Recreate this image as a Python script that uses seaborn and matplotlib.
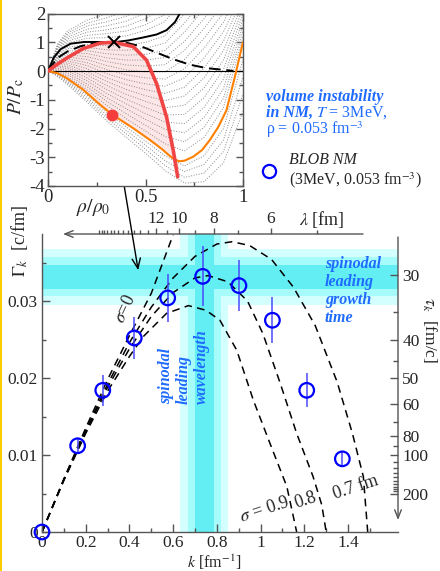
import numpy as np
import pandas as pd
import matplotlib
matplotlib.use("Agg")
import matplotlib.pyplot as plt
import seaborn as sns
from matplotlib.lines import Line2D
from matplotlib.patches import Rectangle

# ---------------- inset data: P/Pc vs rho/rho0 ----------------
rho_grid = [0, 0.05, 0.1, 0.2, 0.3, 0.4, 0.5, 0.6, 0.7, 0.8, 0.9, 1.0]
isotherm_P = [
    [0, -0.20, -0.47, -1.08, -1.73, -2.30, -2.86, -3.46, -3.90, -3.85, -3.20, -1.40],
    [0, -0.17, -0.42, -1.00, -1.63, -2.18, -2.72, -3.29, -3.70, -3.55, -2.80, -0.80],
    [0, -0.14, -0.37, -0.92, -1.53, -2.06, -2.58, -3.12, -3.50, -3.25, -2.40, -0.20],
    [0, -0.11, -0.32, -0.84, -1.43, -1.94, -2.44, -2.95, -3.30, -2.95, -2.00, 0.40],
    [0, -0.04, -0.20, -0.66, -1.19, -1.65, -2.09, -2.53, -2.78, -2.31, -1.27, 1.2],
    [0, 0.01, -0.13, -0.55, -1.05, -1.48, -1.89, -2.28, -2.46, -1.96, -0.94, 1.4],
    [0, 0.05, -0.06, -0.45, -0.92, -1.31, -1.68, -2.03, -2.15, -1.62, -0.61, 1.6],
    [0, 0.09, 0.01, -0.34, -0.78, -1.14, -1.48, -1.78, -1.83, -1.27, -0.28, 1.8],
    [0, 0.14, 0.08, -0.24, -0.64, -0.98, -1.27, -1.53, -1.51, -0.93, 0.05, 2.0],
    [0, 0.18, 0.14, -0.13, -0.50, -0.81, -1.06, -1.28, -1.19, -0.59, 0.38, 2.2],
    [0, 0.22, 0.21, -0.03, -0.36, -0.64, -0.86, -1.03, -0.87, -0.24, 0.71, 2.4],
    [0, 0.26, 0.28, 0.08, -0.23, -0.47, -0.65, -0.78, -0.56, 0.10, 1.04, 2.6],
    [0, 0.31, 0.35, 0.19, -0.09, -0.30, -0.45, -0.53, -0.24, 0.45, 1.37, 2.8],
    [0, 0.35, 0.42, 0.29, 0.05, -0.13, -0.24, -0.28, 0.08, 0.79, 1.70, 3.0],
    [0, 0.39, 0.49, 0.40, 0.19, 0.04, -0.03, -0.03, 0.40, 1.13, 2.03, 3.2],
    [0, 0.44, 0.56, 0.50, 0.33, 0.21, 0.17, 0.22, 0.72, 1.48, 2.36, 3.4],
    [0, 0.48, 0.63, 0.61, 0.46, 0.38, 0.38, 0.47, 1.03, 1.82, 2.69, 3.6],
    [0, 0.52, 0.70, 0.71, 0.60, 0.55, 0.58, 0.72, 1.35, 2.17, 3.02, 3.8],
    [0, 0.57, 0.77, 0.82, 0.74, 0.72, 0.79, 0.97, 1.67, 2.51, 3.35, 4.0],
    [0, 0.61, 0.83, 0.92, 0.88, 0.88, 1.00, 1.22, 1.99, 2.85, 3.68, 4.2],
    [0, 0.69, 0.97, 1.14, 1.16, 1.22, 1.41, 1.72, 2.62, 3.5, 4.4, 5.2],
    [0, 0.74, 1.04, 1.24, 1.30, 1.39, 1.61, 1.97, 2.94, 3.8, 4.7, 5.4],
    [0, 0.78, 1.11, 1.35, 1.43, 1.56, 1.82, 2.22, 3.25, 4.1, 5.0, 5.6],
    [0, 0.82, 1.18, 1.45, 1.57, 1.73, 2.02, 2.47, 3.57, 4.4, 5.3, 5.8],
    [0, 0.87, 1.25, 1.56, 1.71, 1.90, 2.23, 2.72, 3.89, 4.7, 5.6, 6.0],
    [0, 0.91, 1.32, 1.66, 1.85, 2.07, 2.43, 2.97, 4.2, 5.0, 5.9, 6.2],
    [0, 0.95, 1.39, 1.77, 1.99, 2.24, 2.64, 3.2, 4.5, 5.3, 6.2, 6.4],
]

orange_rho = [0, 0.05, 0.094, 0.18, 0.267, 0.33, 0.437, 0.523, 0.585, 0.62, 0.645, 0.673,
              0.70, 0.745, 0.79, 0.83, 0.873, 0.915, 0.958, 1.0]
orange_P = [0, -0.08, -0.24, -0.65, -1.17, -1.52, -1.99, -2.40, -2.72, -2.93, -3.06, -3.14,
            -3.12, -2.98, -2.75, -2.40, -1.95, -1.37, -0.21, 1.0]

crit_rho = [0, 0.03, 0.065, 0.116, 0.185, 0.26, 0.338, 0.41, 0.484, 0.557, 0.608, 0.651, 0.68]
crit_P = [0, 0.47, 0.76, 0.95, 1.01, 1.01, 1.0, 1.06, 1.16, 1.27, 1.42, 1.7, 2.05]

coex_rho = [0, 0.048, 0.1, 0.167, 0.235, 0.338, 0.41, 0.484, 0.557, 0.642, 0.728, 0.813, 0.915, 0.95]
coex_P = [0, 0.45, 0.68, 0.86, 0.96, 1.0, 0.97, 0.84, 0.64, 0.41, 0.22, 0.10, 0.03, 0.0]

spin_rho = [0, 0.04, 0.094, 0.18, 0.267, 0.338, 0.437, 0.505, 0.557, 0.608, 0.642, 0.665]
spin_P = [0, 0.20, 0.44, 0.78, 0.97, 1.0, 0.85, 0.38, -0.44, -1.6, -2.75, -3.68]

crit_point = (0.338, 1.0)
state_point = (0.33, -1.52)

# ---------------- main data: growth rate vs k ----------------
k_pts = [0, 0.163, 0.278, 0.422, 0.575, 0.735, 0.901, 1.054, 1.211, 1.374]
gamma_pts = [0, 0.0112, 0.0184, 0.0252, 0.0304, 0.0332, 0.0320, 0.0275, 0.0184, 0.0095]
gamma_err = [0, 0.0010, 0.0020, 0.0027, 0.0031, 0.0039, 0.0033, 0.0030, 0.0022, 0.0010]

s0_k = [0, 0.1, 0.2, 0.3, 0.4, 0.5, 0.6]
s0_g = [0, 0.0069, 0.0135, 0.0198, 0.0255, 0.0310, 0.0386]
s07_k = [0, 0.1, 0.2, 0.3, 0.4, 0.5, 0.6, 0.7, 0.8, 0.87, 0.95, 1.05, 1.15, 1.25, 1.35, 1.42, 1.47, 1.49]
s07_g = [0, 0.0068, 0.0132, 0.0192, 0.0246, 0.0292, 0.0330, 0.0358, 0.0374, 0.0377, 0.0372, 0.0354,
         0.0318, 0.0268, 0.0195, 0.0128, 0.0072, 0.0]
s08_k = [0, 0.1, 0.2, 0.3, 0.4, 0.5, 0.6, 0.7, 0.76, 0.85, 0.94, 1.01, 1.09, 1.165, 1.24, 1.28, 1.30]
s08_g = [0, 0.0068, 0.0130, 0.0188, 0.0238, 0.0280, 0.0311, 0.0330, 0.0333, 0.0325, 0.0300, 0.0258,
         0.0193, 0.0128, 0.0072, 0.0035, 0.0]
s09_k = [0, 0.1, 0.2, 0.3, 0.4, 0.464, 0.57, 0.67, 0.75, 0.814, 0.891, 0.967, 1.043, 1.12, 1.165]
s09_g = [0, 0.0067, 0.0128, 0.0183, 0.0228, 0.0254, 0.0284, 0.0294, 0.0288, 0.0275, 0.0236, 0.0171,
         0.0115, 0.0059, 0.0]

# spinodal bands (light, medium, dark)
band_k = [(0.631, 0.851), (0.666, 0.819), (0.700, 0.787)]
band_g = [(0.02948, 0.03675), (0.03065, 0.0357), (0.03156, 0.03468)]
band_colors = ["#d4ffff", "#a6fbfb", "#62eef2"]

lambda_ticks = list(range(5, 25))
lambda_labels = [12, 10, 8, 6]
tau_major = [30, 40, 50, 60, 80, 100, 200]
tau_minor = [35, 45, 70, 90, 110, 120, 130, 140, 150, 160, 170, 180, 190]
arrow_tip = (0.44, 0.0340)

# ---------------- style ----------------
sns.set_theme(style="ticks")
plt.rcParams["font.family"] = ["Liberation Serif", "DejaVu Serif"]
plt.rcParams["mathtext.fontset"] = "stix"
plt.rcParams["axes.unicode_minus"] = False

W, H = 440, 571
fig = plt.figure(figsize=(W / 100, H / 100), dpi=100)
fig.patch.set_facecolor("white")


def F(x, y):
    return (x / W, 1 - y / H)


BLUE_TXT = "#1f6bff"
SPINE = "#555555"

# ---------------- main axes ----------------
ax = fig.add_axes([42 / W, 1 - 532 / H, 356 / W, 298 / H])
ax.set_facecolor("none")
ax.set_xlim(0, 356 / 218.6)
ax.set_ylim(0, 298 / 7700)

for i, (kk, gg, c) in enumerate(zip(band_k, band_g, band_colors)):
    ax.axvspan(kk[0], kk[1], color=c, lw=0, zorder=0.1 + 0.1 * i)
    ax.axhspan(gg[0], gg[1], color=c, lw=0, zorder=0.1 + 0.1 * i)

for ks, gs in [(s0_k, s0_g), (s07_k, s07_g), (s08_k, s08_g), (s09_k, s09_g)]:
    sns.lineplot(x=ks, y=gs, ax=ax, color="black", lw=1.1, linestyle=(0, (5, 3.5)),
                 sort=False, estimator=None, zorder=2)

ax.errorbar(k_pts, gamma_pts, yerr=gamma_err, fmt="none", ecolor="#4a4aff",
            elinewidth=1.1, capsize=0, zorder=3)
sns.scatterplot(x=k_pts, y=gamma_pts, ax=ax, marker="o", s=110, facecolors="none",
                edgecolor="#0000ff", linewidth=1.6, zorder=4, clip_on=False)

ax.set_xticks([0, 0.2, 0.4, 0.6, 0.8, 1.0, 1.2, 1.4])
ax.set_xticklabels(["0", "0.2", "0.4", "0.6", "0.8", "1", "1.2", "1.4"])
ax.set_xticks([0.1, 0.3, 0.5, 0.7, 0.9, 1.1, 1.3, 1.5], minor=True)
ax.set_yticks([0, 0.01, 0.02, 0.03])
ax.set_yticklabels(["0", "0.01", "0.02", "0.03"])
ax.set_yticks([0.005, 0.015, 0.025, 0.035], minor=True)
ax.tick_params(which="both", direction="in", top=False, right=False, labelsize=12.5,
               color=SPINE, width=1, pad=3)
ax.tick_params(axis="x", which="both", pad=2)
ax.tick_params(which="major", length=6)
ax.tick_params(which="minor", length=3)
ax.set_xlabel("")
ax.set_ylabel("")
for side in ["top", "right"]:
    ax.spines[side].set_visible(False)
for side in ["left", "bottom"]:
    ax.spines[side].set_color(SPINE)
    ax.spines[side].set_linewidth(1)

# right tau axis
ax2 = ax.twinx()
ax2.set_ylim(ax.get_ylim())
ax2.set_yticks([1 / t for t in tau_major])
ax2.set_yticklabels([str(t) for t in tau_major])
ax2.set_yticks([1 / t for t in tau_minor], minor=True)
ax2.tick_params(which="both", direction="in", right=True, left=False, labelsize=12.5,
                color=SPINE, width=1, pad=3)
ax2.tick_params(which="major", length=6)
ax2.tick_params(which="minor", length=3.5)
for s in ax2.spines.values():
    s.set_visible(False)

# top lambda axis
ax3 = ax.twiny()
ax3.set_xlim(ax.get_xlim())
ax3.set_xticks([2 * np.pi / l for l in lambda_labels])
ax3.set_xticklabels([str(l) for l in lambda_labels])
ax3.set_xticks([2 * np.pi / l for l in lambda_ticks if l not in lambda_labels], minor=True)
ax3.tick_params(which="both", direction="out", top=True, bottom=False, labelsize=12.5,
                color=SPINE, width=1, pad=1)
ax3.tick_params(which="major", length=4)
ax3.tick_params(which="minor", length=3)
for s in ax3.spines.values():
    s.set_visible(False)

ax.annotate("", xy=((63 - 42) / 356, 1.0), xytext=((363 - 42) / 356, 1.0),
            xycoords="axes fraction", textcoords="axes fraction",
            arrowprops=dict(arrowstyle="->,head_length=0.5,head_width=0.2", lw=1,
                            color=SPINE, shrinkA=0, shrinkB=0), annotation_clip=False)
ax.annotate("", xy=(1.0, (532 - 520) / 298), xytext=(1.0, (532 - 237) / 298),
            xycoords="axes fraction", textcoords="axes fraction",
            arrowprops=dict(arrowstyle="->,head_length=0.5,head_width=0.2", lw=1,
                            color=SPINE, shrinkA=0, shrinkB=0), annotation_clip=False)

# labels for main
fig.text(*F(20, 241), r"$\Gamma_k$  [c/fm]", rotation=90, ha="center", va="center", fontsize=13)
fig.text(*F(429, 330), r"$\tau_k$  [fm/c]", rotation=270, ha="center", va="center", fontsize=12.5)
fig.text(*F(214, 562), r"$k$ [fm$^{-1}$]", ha="center", va="center", fontsize=11.5)
fig.text(*F(322, 219), r"$\lambda$ [fm]", ha="center", va="center", fontsize=13)
fig.text(*F(125, 309), r"$\sigma$=0", rotation=65, ha="center", va="center", fontsize=13)
fig.text(*F(265, 510), r"$\sigma$ = 0.9", rotation=18, ha="center", va="center", fontsize=13)
fig.text(*F(306, 500), "0.8", rotation=18, ha="center", va="center", fontsize=13)
fig.text(*F(356, 488), "0.7 fm", rotation=18, ha="center", va="center", fontsize=13)

fig.text(*F(325, 256), "spinodal\nleading\ngrowth\ntime", ha="left", va="top", fontsize=11.5,
         color=BLUE_TXT, fontweight="bold", fontstyle="italic", linespacing=1.17)
fig.text(*F(184, 404), "spinodal\nleading\nwavelength", rotation=90, ha="center", va="bottom",
         multialignment="left", fontsize=11.5, color=BLUE_TXT, fontweight="bold",
         fontstyle="italic", linespacing=1.2)

# ---------------- inset ----------------
ax_in = fig.add_axes([48 / W, 1 - 186 / H, 195 / W, 172.5 / H])
ax_in.set_xlim(0, 1)
ax_in.set_ylim(-4, 2)

iso_df = pd.DataFrame(
    [(i, r, p) for i, row in enumerate(isotherm_P) for r, p in zip(rho_grid, row)],
    columns=["curve", "rho", "P"],
)

n_or = sum(1 for r in orange_rho if r <= 0.673)
poly_x = list(spin_rho) + list(orange_rho[:n_or])[::-1]
poly_y = list(spin_P) + list(orange_P[:n_or])[::-1]
ax_in.fill(poly_x, poly_y, color="#fde6e6", lw=0, zorder=1)

sns.lineplot(data=iso_df, x="rho", y="P", units="curve", estimator=None, sort=False,
             ax=ax_in, color="#8a8a8a", lw=0.7, linestyle=":", legend=False, zorder=2)
ax_in.axhline(0, color="black", lw=0.8, zorder=2.5)
sns.lineplot(x=coex_rho, y=coex_P, ax=ax_in, color="black", lw=1.4, linestyle=(0, (6, 3)),
             sort=False, estimator=None, zorder=3)
sns.lineplot(x=crit_rho, y=crit_P, ax=ax_in, color="black", lw=1.4, sort=False,
             estimator=None, zorder=3)
sns.lineplot(x=orange_rho, y=orange_P, ax=ax_in, color="#ff8000", lw=1.5, sort=False,
             estimator=None, zorder=3.2)
sns.lineplot(x=spin_rho, y=spin_P, ax=ax_in, color="#f04545", lw=2.6, sort=False,
             estimator=None, zorder=3.5)
ax_in.plot([crit_point[0]], [crit_point[1]], marker="x", color="black", ms=8, mew=1.4,
           zorder=5, ls="none")
ax_in.plot([state_point[0]], [state_point[1]], marker="o", color="#f43c3c", ms=7.5,
           zorder=5, ls="none")

ax_in.set_xticks([0, 0.5, 1])
ax_in.set_xticklabels(["0", "0.5", "1"])
ax_in.set_xticks([0.25, 0.75], minor=True)
ax_in.set_yticks([-4, -3, -2, -1, 0, 1, 2])
ax_in.set_yticklabels(["-4", "-3", "-2", "-1", "0", "1", "2"])
ax_in.set_yticks([-3.5, -2.5, -1.5, -0.5, 0.5, 1.5], minor=True)
ax_in.tick_params(which="both", direction="in", top=True, right=True, labelsize=13.5,
                  color=SPINE, width=1, pad=2)
ax_in.tick_params(which="major", length=5)
ax_in.tick_params(which="minor", length=3)
ax_in.set_xlabel("")
ax_in.set_ylabel("")
for s in ax_in.spines.values():
    s.set_color(SPINE)
    s.set_linewidth(1)

fig.text(*F(16, 97), r"$P/P_\mathrm{c}$", rotation=90, ha="center", va="center", fontsize=14)
fig.text(*F(93, 208), r"$\rho/\rho_0$", ha="center", va="center", fontsize=14)

# arrow from state point to main panel
ax.annotate("", xy=arrow_tip, xycoords="data", xytext=state_point, textcoords=ax_in.transData,
            arrowprops=dict(arrowstyle="->,head_length=0.6,head_width=0.25", lw=1,
                            color="black", shrinkA=0, shrinkB=0), annotation_clip=False,
            zorder=6)

# inset annotations
fig.text(*F(266, 97), "volume instability", ha="left", va="center", fontsize=11.5,
         color=BLUE_TXT, fontweight="bold", fontstyle="italic")
fig.text(*F(266, 113), "in NM,", ha="left", va="center", fontsize=11.5,
         color=BLUE_TXT, fontweight="bold", fontstyle="italic")
fig.text(*F(316, 113), r"$T$ = 3MeV,", ha="left", va="center", fontsize=11.5, color=BLUE_TXT)
fig.text(*F(266, 130), r"ρ = 0.053 fm$^{-3}$", ha="left", va="center", fontsize=11.5,
         color=BLUE_TXT)
fig.add_artist(Line2D([269 / W], [1 - 171 / H], transform=fig.transFigure, marker="o",
                      ms=9.5, mfc="none", mec="#0000ff", mew=1.6, ls="none"))
fig.text(*F(289, 160), "BLOB NM", ha="left", va="center", fontsize=11.5, fontstyle="italic")
fig.text(*F(289, 180), r"(3MeV, 0.053 fm$^{-3}$)", ha="left", va="center", fontsize=11.5)

# left yellow border
fig.add_artist(Rectangle((0, 0), 2 / W, 1, transform=fig.transFigure, color="#ffcc00", lw=0))

fig.savefig("out.png", dpi=100)
